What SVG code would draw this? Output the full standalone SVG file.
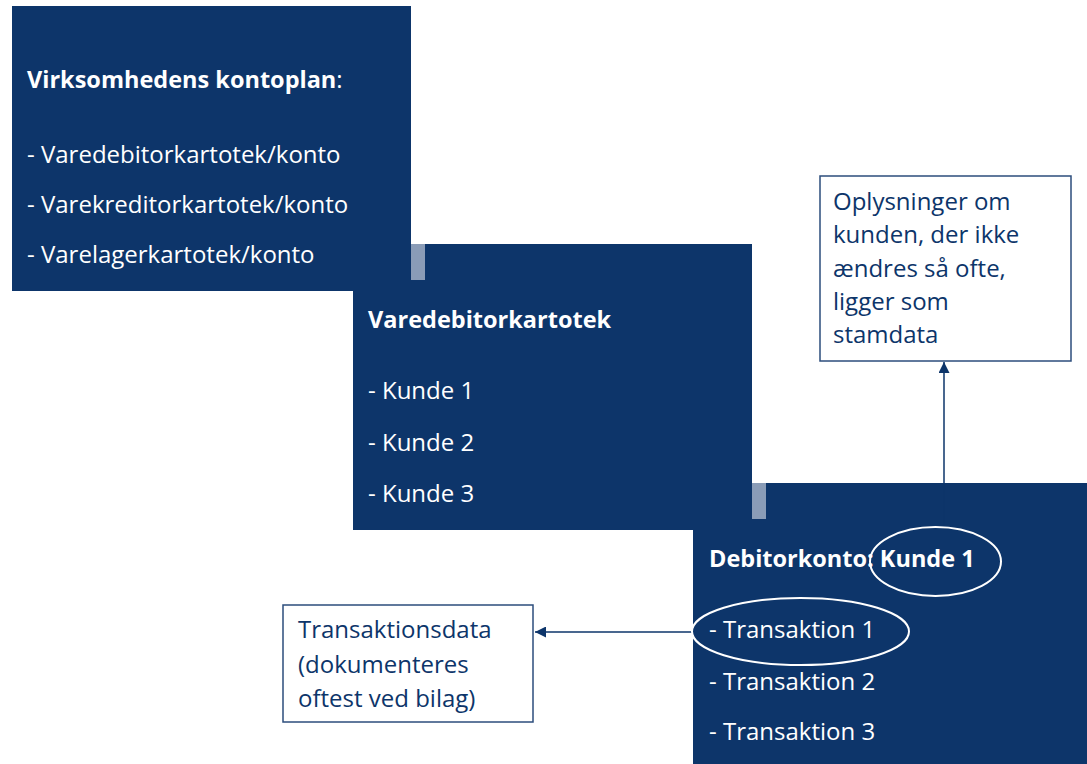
<svg xmlns="http://www.w3.org/2000/svg" width="1087" height="764" viewBox="0 0 1087 764">
<style>
.box{fill:#0d356a}
.strip{fill:#8a9cb7}
.wt{fill:#ffffff;font-family:"Open Sans","Noto Sans",sans-serif;font-size:24px}
.b{font-weight:bold;font-size:23.5px}
.note{fill:#ffffff;stroke:#2c4d7c;stroke-width:1.5}
.nt{fill:#0d356a;font-family:"Open Sans","Noto Sans",sans-serif;font-size:24px}
.ell{fill:none;stroke:#ffffff;stroke-width:2}
.con{stroke:#0d356a;stroke-width:1.5;fill:none}
</style>
<defs>
<marker id="arr" viewBox="0 0 10 10" refX="10" refY="5" markerWidth="11" markerHeight="11" markerUnits="userSpaceOnUse" orient="auto">
<path d="M0,0 L10,5 L0,10 z" fill="#0d356a"/>
</marker>
</defs>
<rect width="1087" height="764" fill="#ffffff"/>
<g id="box3">
<rect class="box" x="693" y="483" width="394" height="281"/>
<rect class="strip" x="752" y="483" width="14" height="36"/>
</g>
<g id="box2">
<rect class="box" x="353" y="244" width="399" height="286"/>
<rect class="strip" x="411" y="244" width="14" height="36"/>
<text class="wt b" x="368" y="328">Varedebitorkartotek</text>
<text class="wt" x="368" y="399">- Kunde 1</text>
<text class="wt" x="368" y="451">- Kunde 2</text>
<text class="wt" x="368" y="502">- Kunde 3</text>
</g>
<g id="box1">
<rect class="box" x="12" y="6" width="399" height="285"/>
<text class="wt" x="27" y="88"><tspan class="b">Virksomhedens kontoplan</tspan>:</text>
<text class="wt" x="27" y="163">- Varedebitorkartotek/konto</text>
<text class="wt" x="27" y="213">- Varekreditorkartotek/konto</text>
<text class="wt" x="27" y="263">- Varelagerkartotek/konto</text>
</g>
<g id="box3text">
<text class="wt b" x="709" y="567">Debitorkonto: Kunde 1</text>
<text class="wt" x="709" y="638">- Transaktion 1</text>
<text class="wt" x="709" y="690">- Transaktion 2</text>
<text class="wt" x="709" y="740">- Transaktion 3</text>
</g>
<g id="note-stamdata">
<rect class="note" x="820" y="176" width="251" height="185"/>
<text class="nt" x="833" y="210">Oplysninger om</text>
<text class="nt" x="833" y="243">kunden, der ikke</text>
<text class="nt" x="833" y="277">ændres så ofte,</text>
<text class="nt" x="833" y="310">ligger som</text>
<text class="nt" x="833" y="343">stamdata</text>
</g>
<g id="note-transaktion">
<rect class="note" x="283" y="605" width="250" height="117"/>
<text class="nt" x="298" y="638">Transaktionsdata</text>
<text class="nt" x="298" y="673">(dokumenteres</text>
<text class="nt" x="298" y="707">oftest ved bilag)</text>
</g>
<g id="connectors">
<line class="con" x1="944" y1="527" x2="944" y2="362" marker-end="url(#arr)"/>
<line class="con" x1="692" y1="632" x2="535" y2="632" marker-end="url(#arr)"/>
<ellipse class="ell" cx="935.5" cy="561.5" rx="65.5" ry="34.5"/>
<ellipse class="ell" cx="800.5" cy="631.5" rx="108.5" ry="33.5"/>
</g>
</svg>
